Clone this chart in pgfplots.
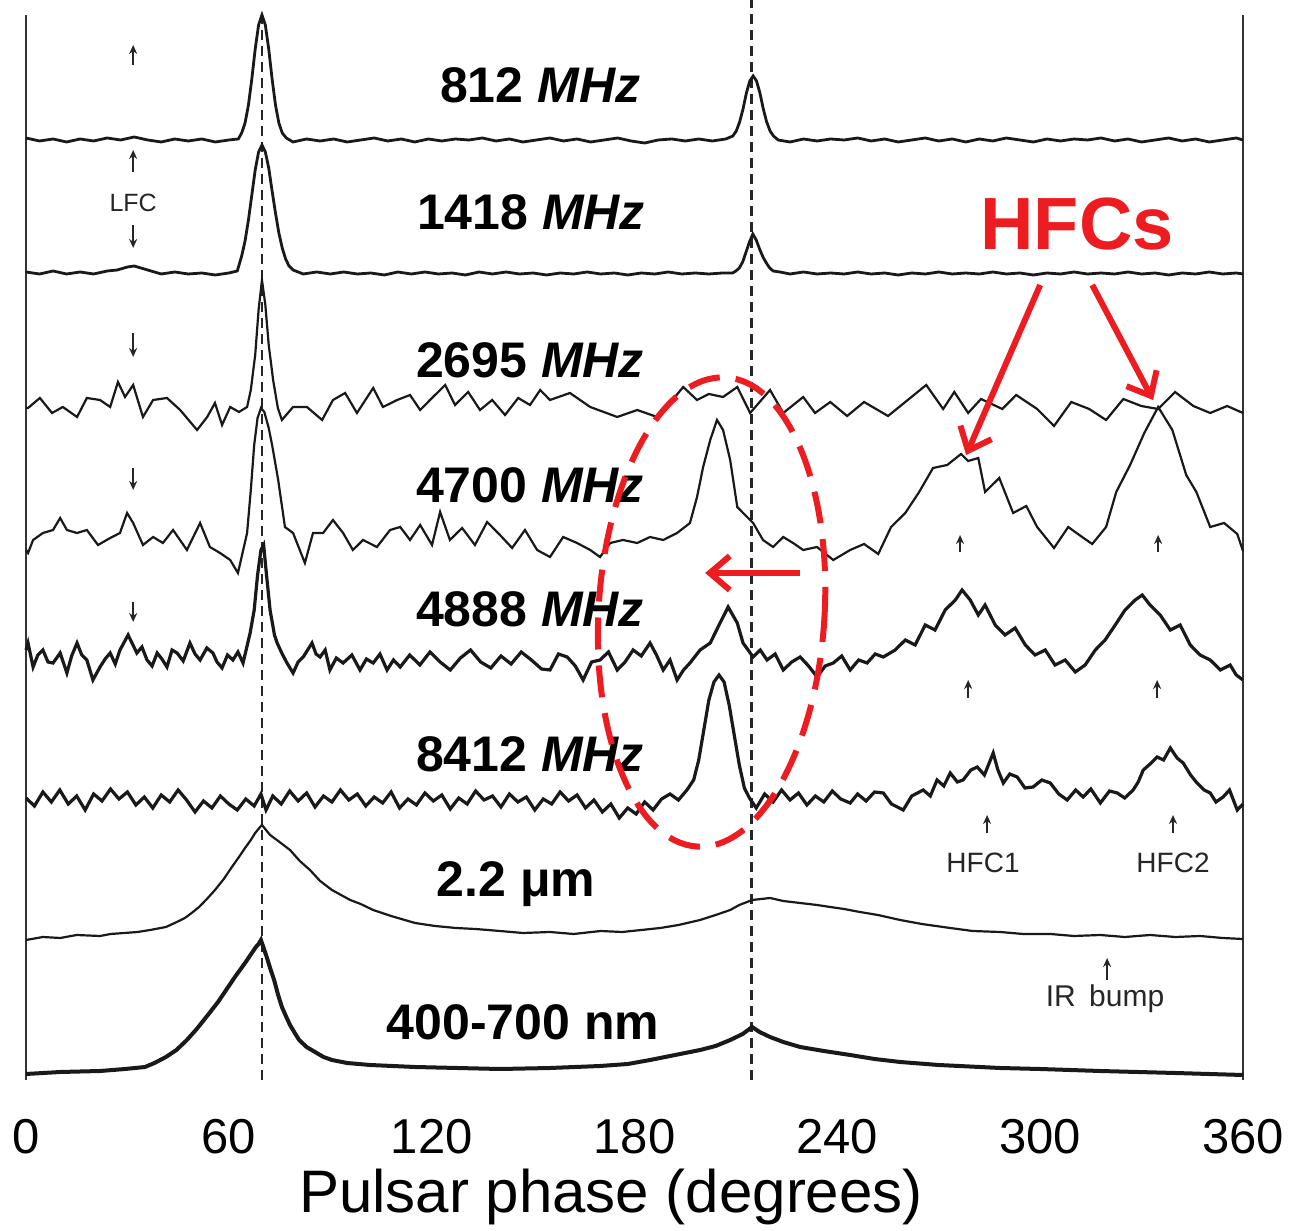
\documentclass[border=0pt]{standalone}
\usepackage{pgfplots}
\pgfplotsset{compat=1.18}
\usepackage{fontspec}
\setmainfont{Liberation Sans}
\usetikzlibrary{arrows.meta}
\definecolor{hred}{RGB}{236,28,32}
\definecolor{trc}{RGB}{25,25,25}
\begin{document}
\begin{tikzpicture}
\begin{axis}[
 scale only axis, width=608.5pt, height=532.5pt,
 xmin=0, xmax=360, ymin=0, ymax=1065,
 axis line style={draw=none},
 xtick={0,60,120,180,240,300,360}, ytick=\empty,
 major tick length=0pt,
 /pgf/number format/assume math mode=true,
 xticklabel style={font=\fontsize{24.5}{24.5}\selectfont, anchor=base, yshift=-36.5pt, inner sep=0pt},
 xlabel={Pulsar phase (degrees)},
 xlabel style={font=\fontsize{30}{30}\selectfont, at={(axis description cs:0.4807,0)}, anchor=base, yshift=-66pt, inner sep=0pt},
 clip=false,
]
\coordinate (A) at (rel axis cs:0,0);
% frame sides
\draw[line width=1.3pt, black!80] (rel axis cs:0,0) -- (rel axis cs:0,1);
\draw[line width=1.3pt, black!80] (rel axis cs:1,0) -- (rel axis cs:1,1);
% dashed reference lines
\addplot[line width=1.1pt, black!85, dash pattern=on 5pt off 3pt] coordinates {(69.8,0) (69.8,1065)};
\addplot[line width=1.1pt, black!85, dash pattern=on 5pt off 3pt] coordinates {(214.6,0) (214.6,1080)};

% 812 MHz
\addplot[line width=1.4pt, trc] coordinates {
(0,942)(4,939)(8,941)(12,938)(16,941)(20,939)(24,942)(28,940)(32,943)(36,940)(40,938)(44,941)(48,939)(52,941)(56,938)(60,940)(62.8,941)(63.8,947)(64.8,957)(65.8,975)(66.8,1001)(67.8,1031)(68.8,1055)(69.8,1065)(70.8,1055)(71.8,1031)(72.8,1001)(73.8,975)(74.8,957)(75.8,947)(77,942)(79,938)(83,941)(87,939)(91,941)(95,938)(99,940)(103,942)(107,939)(111,941)(115,938)(119,941)(123,939)(127,941)(131,940)(135,942)(139,939)(143,941)(147,938)(151,940)(155,942)(159,939)(163,941)(167,938)(171,940)(175,942)(179,939)(183,937)(187,940)(191,941)(195,939)(199,941)(203,939)(207,941)(209.1,944)(210.1,949)(211.1,958)(212.1,971)(213.1,987)(214.1,999)(215.1,1004)(216.1,999)(217.1,987)(218.1,971)(219.1,958)(220.1,949)(221.1,944)(222.5,940)(226,938)(230,941)(234,939)(238,941)(242,940)(246,942)(250,939)(254,941)(258,938)(262,940)(266,942)(270,939)(274,941)(278,938)(282,941)(286,939)(290,942)(294,940)(298,938)(302,941)(306,939)(310,941)(314,940)(318,942)(322,939)(326,941)(330,938)(334,940)(338,942)(342,939)(346,941)(350,938)(354,940)(358,942)(360,940)};

% 1418 MHz
\addplot[line width=1.4pt, trc] coordinates {
(0,808)(4,806)(8,809)(12,806)(16,808)(20,806)(24,809)(27,810)(30,813)(32,814)(34,812)(37,809)(40,806)(44,808)(48,806)(52,807)(56,805)(60,807)(62.5,809)(63.8,824)(64.8,839)(65.8,860)(66.8,885)(67.8,910)(68.8,928)(69.8,935)(70.8,928)(71.8,912)(72.8,889)(73.8,867)(74.8,847)(75.8,832)(76.8,821)(77.8,814)(79,810)(82,806)(86,808)(90,806)(94,808)(98,806)(102,807)(106,805)(110,808)(114,806)(118,808)(122,806)(126,807)(130,805)(134,808)(138,806)(142,808)(146,806)(150,807)(154,805)(158,807)(162,806)(166,808)(170,806)(174,807)(178,805)(182,807)(186,806)(190,808)(194,806)(198,807)(202,806)(206,807)(209,807)(210,809)(211,812)(212,818)(213,828)(214,838)(215,846)(216,840)(217,831)(218,823)(219,817)(220,812)(221,809)(223,808)(226,806)(230,808)(234,806)(238,807)(242,806)(246,808)(250,806)(254,807)(258,805)(262,807)(266,806)(270,808)(274,806)(278,807)(282,806)(286,808)(290,806)(294,807)(298,805)(302,807)(306,806)(310,808)(314,806)(318,807)(322,806)(326,808)(330,806)(334,807)(338,805)(342,807)(346,806)(350,808)(354,806)(358,807)(360,806)};

% 2695 MHz
\addplot[line width=1.1pt, trc] coordinates {
(0,672)(0.6,672)(4.1,682)(7.7,667)(10.9,673)(15.1,663)(18.0,682)(21.9,680)(24.9,673)(27.2,698)(29.3,683)(31.7,695)(34.6,663)(37.6,680)(41.7,682)(45.6,670)(50.6,650)(53.6,663)(55.9,677)(58.0,655)(60.4,673)(63,668)(65.4,673)(66.5,690)(67.8,725)(68.8,770)(69.8,800)(70.8,775)(71.8,735)(73.1,700)(74.5,672)(75.7,660)(79.0,673)(83.1,673)(87.6,660)(90.8,680)(94.4,687)(97.9,667)(102.7,692)(105.6,673)(109.8,680)(113.6,685)(116.6,670)(120.1,682)(124.0,695)(126.9,675)(130.8,688)(134.3,670)(137.9,680)(141.7,665)(145.6,682)(149.1,675)(152.1,690)(155.0,680)(160.9,687)(166.9,673)(174.9,663)(180.8,670)(186.7,663)(190.5,677)(194.4,693)(198.5,680)(202,686)(206.2,683)(210.4,693)(214.2,667)(220.1,690)(224.0,667)(229.9,683)(233.4,667)(237.9,678)(242.9,664)(247.9,678)(255.0,664)(260.1,678)(266.3,695)(271.3,671)(274.6,688)(278.7,667)(282.5,681)(288.8,671)(292.9,685)(299.1,671)(304.1,654)(309.2,678)(314.5,671)(319.5,660)(324.6,681)(329.9,674)(334.9,671)(339.9,688)(345.3,674)(350.3,667)(355.3,674)(360,667)};

% 4700 MHz
\addplot[line width=1.1pt, trc] coordinates {
(0,530)(0.6,527)(2.1,540)(5.0,547)(8.0,550)(10.1,562)(12.1,550)(15.1,547)(18.0,550)(21.3,535)(24.9,542)(27.8,547)(29.9,567)(31.7,557)(34.6,535)(37.6,543)(40.5,537)(43.5,550)(47.6,530)(51.5,557)(54.4,533)(57.4,527)(60.4,520)(62.7,507)(65.4,547)(66.5,590)(67.5,635)(68.5,662)(69.5,672)(70.5,668)(71.8,652)(72.8,635)(74.6,600)(76.6,553)(79.0,547)(82.5,517)(84.9,547)(87.9,547)(90.8,560)(93.8,547)(96.7,530)(99.7,540)(103.8,533)(107.7,550)(110.7,553)(113.6,540)(116.6,555)(120.1,535)(122.5,568)(125.4,540)(129.0,552)(132.8,535)(136.4,558)(140.2,545)(143.8,532)(147.6,550)(151.2,530)(155.0,523)(158.9,543)(163.0,537)(166.9,530)(169.8,523)(172.8,537)(176.6,540)(180.8,537)(184.6,543)(188.5,540)(192.6,547)(196.4,557)(198.5,583)(200.3,613)(202.4,640)(204.4,660)(206.2,650)(208.3,620)(210.4,573)(213.3,563)(215.1,557)(218.0,540)(221.0,533)(224.0,543)(226.9,537)(229.9,530)(234.0,533)(238.8,520)(243.8,530)(247.9,536)(252.1,526)(255.9,553)(260.1,567)(264.2,588)(268.3,612)(272.5,615)(276.6,626)(278.7,619)(281.7,622)(283.7,588)(287.9,602)(292.0,567)(295.9,574)(299.1,553)(304.1,532)(308.3,553)(312.4,543)(315.4,536)(319.5,553)(322.5,588)(326.6,615)(330.8,647)(334.9,673)(339.1,650)(343.2,605)(346.2,588)(350.3,553)(354.4,557)(358.3,546)(360,529)};

% 4888 MHz
\addplot[line width=1.6pt, trc] coordinates {
(0,430)(0.6,437)(2.1,413)(3.5,425)(5.0,430)(6.5,418)(8.0,417)(10.1,427)(12.1,407)(13.5,424)(15.1,437)(16.5,425)(18.0,420)(19.8,400)(21.9,413)(23.4,421)(24.9,427)(26.4,416)(27.8,430)(30.2,445)(32.8,427)(34.3,433)(35.8,420)(37.3,414)(38.8,427)(40.2,421)(41.7,413)(43.2,430)(44.7,427)(46.5,419)(48.5,437)(50,426)(51.5,420)(53.5,432)(55.3,427)(56.5,418)(58.0,412)(59.6,425)(61.2,420)(62.7,428)(64.2,417)(66.3,447)(67.5,470)(68.5,505)(69.5,530)(70.3,535)(71,510)(72.2,470)(73.5,445)(74.3,437)(75.8,426)(77.2,417)(79.0,407)(80.5,418)(82.0,423)(84.6,437)(85.8,426)(87.0,423)(88.5,430)(89.9,410)(91.8,422)(93.8,417)(96.4,425)(98.8,410)(100.7,421)(102.7,417)(104.7,426)(106.8,410)(108.7,420)(110.7,413)(113.5,425)(116.5,415)(119.5,428)(122.5,418)(125.5,410)(128.5,422)(131.5,430)(134.5,418)(137.5,412)(140.5,424)(143.5,416)(146.5,428)(149.5,420)(152.5,411)(155.0,410)(157.5,426)(160.1,423)(162.5,414)(164.8,400)(167.3,418)(169.8,420)(172.3,428)(174.9,410)(177.2,418)(179.6,430)(182,424)(184.6,437)(186.5,425)(188.5,410)(190.5,420)(192.6,400)(194.5,410)(196.4,417)(199.4,430)(202.4,437)(205.3,457)(207.7,473)(210.4,457)(212.1,437)(215.1,423)(217.2,430)(219.2,420)(221.6,426)(224.0,410)(226.5,418)(229.0,423)(231.5,414)(234.0,403)(236.4,414)(238.8,417)(241.3,424)(243.8,410)(246.3,420)(248.8,417)(251.2,426)(253.6,423)(257.1,430)(260.1,440)(263.0,435)(266.0,455)(268.9,450)(271.9,470)(274.9,480)(276.9,490)(279.3,480)(281.7,465)(283.7,475)(286.7,455)(289.6,445)(292.6,452)(295.6,435)(298.5,425)(301.5,430)(304.4,415)(307.4,420)(310.4,408)(313.3,415)(316.3,430)(319.2,440)(322.2,455)(325.1,470)(328.1,480)(330.2,485)(332.5,475)(335.5,465)(338.5,450)(341.4,455)(344.4,435)(347.3,425)(350.3,420)(353.3,410)(356.2,415)(358,405)(360,400)};

% 8412 MHz
\addplot[line width=1.6pt, trc] coordinates {
(0,282)(2.5,274)(5,288)(7.5,278)(10,290)(12.5,276)(15,284)(17.5,270)(20,286)(22.5,279)(25,291)(27.5,281)(30,288)(32.5,275)(35,283)(37.5,272)(40,285)(42.5,278)(45,290)(47.5,280)(50,268)(52.5,279)(55,272)(57.5,284)(60,276)(62.5,270)(65,281)(67.5,274)(69.5,286)(71,270)(73,284)(75.5,276)(78,289)(80.5,279)(83,287)(85.5,273)(88,284)(90.5,278)(93,290)(95.5,280)(98,286)(100.5,274)(103,283)(105.5,277)(108,288)(110.5,272)(113,281)(115.5,275)(118,287)(120.5,279)(123,285)(125.5,271)(128,282)(130.5,276)(133,289)(135.5,280)(138,284)(140.5,273)(143,286)(145.5,278)(148,283)(150.5,270)(153,281)(155.5,276)(158,288)(160.5,279)(163,285)(165.5,272)(168,280)(170.5,268)(173,276)(175.5,262)(178,272)(180.5,266)(183,278)(185.5,270)(188,281)(190.5,286)(193,280)(195.5,290)(197.5,300)(199,320)(200.5,350)(202,380)(203.5,398)(205,405)(206.5,398)(208,375)(209.5,345)(211,315)(212.5,292)(214,282)(216,272)(218.5,286)(221,278)(223.5,290)(226,280)(228.5,287)(231,275)(233.5,284)(236,278)(238.5,289)(241,281)(243.8,277)(246,286)(248.5,279)(251,288)(253.6,287)(256,276)(259.5,270)(262,284)(265.4,290)(267.5,284)(269.5,300)(271.5,294)(273.4,307)(275.5,298)(277.2,300)(279.5,310)(281.4,313)(283.5,305)(286.1,327)(287.5,310)(289.1,297)(291,306)(293.2,303)(295.5,292)(297.9,293)(300.5,300)(303,297)(305.5,286)(308,280)(310.5,290)(312.7,283)(315,291)(317.8,277)(320.5,289)(322.8,287)(325,282)(327.5,290)(329,298)(330.5,310)(332.5,316)(334.6,323)(336.5,320)(338.5,332)(340.5,322)(342.3,317)(344.5,305)(346.4,297)(348.5,290)(350.3,287)(352,278)(354.1,283)(356,290)(358.3,270)(360,276)};

% 2.2 micron
\addplot[line width=1.1pt, trc] coordinates {
(0,140)(5,143)(10.1,142)(15,145)(21.9,144)(25,146)(29.0,147)(33,148)(36.7,150)(41.4,153)(44,157)(47.0,162)(49,167)(51.2,173)(53.5,181)(55.9,190)(58.5,201)(60.9,213)(63,223)(64.8,232)(66.5,240)(67.8,247)(69,252)(69.8,255)(71,250)(72.2,245)(75,238)(78.1,230)(81,219)(84.0,210)(87,199)(90.5,190)(95.9,180)(99,176)(102.7,170)(108,164)(115.1,157)(121,154)(127.2,152)(133,151)(140.2,149)(147,147)(155.0,148)(162,146)(170,149)(176.3,148)(182,150)(187.6,152)(193,155)(199.4,160)(204,165)(208.3,170)(211,175)(214.8,180)(220.1,182)(224,179)(229.0,177)(234,175)(237.9,173)(242,171)(246.7,168)(252,165)(258.6,160)(265,156)(273.4,152)(280,149)(288.2,148)(295,146)(303.0,146)(310,144)(317.8,145)(325,143)(332.5,145)(340,143)(347.3,144)(354,142)(360,141)};

% 400-700 nm
\addplot[line width=2pt, trc] coordinates {
(0,6)(10.1,8)(21.9,9)(29.3,11)(35.2,13)(38,17)(41.4,23)(44.5,30)(47.6,40)(50.5,51)(53.8,65)(56.8,78)(59.8,93)(62,104)(63.3,110)(65,118)(66.0,123)(67,128)(68.0,133)(68.8,136)(69.5,140)(70.3,132)(71.3,122)(72.3,111)(73.4,100)(74.5,86)(75.7,73)(77,63)(78.1,55)(79.5,47)(80.8,40)(83,33)(85.5,28)(88,23)(90.5,20)(95,17)(101.8,15)(115.1,13)(140.2,11)(155,12)(169.8,14)(178,16)(184.6,20)(192,25)(199.4,30)(204,34)(208.3,40)(212,46)(214.8,53)(217,48)(220.1,43)(224,38)(229.0,33)(236,29)(243.8,25)(251,21)(258.6,18)(270,15)(288.2,12)(300,11)(317.8,9)(340,7)(360,5)};

% trace labels
\node[anchor=base, font=\fontsize{25}{25}\selectfont\bfseries] at (axis cs:152.1,977) {812 \textit{MHz}};
\node[anchor=base, font=\fontsize{25}{25}\selectfont\bfseries] at (axis cs:149.4,850) {1418 \textit{MHz}};
\node[anchor=base, font=\fontsize{25}{25}\selectfont\bfseries] at (axis cs:149.1,702) {2695 \textit{MHz}};
\node[anchor=base, font=\fontsize{25}{25}\selectfont\bfseries] at (axis cs:149.1,577) {4700 \textit{MHz}};
\node[anchor=base, font=\fontsize{25}{25}\selectfont\bfseries] at (axis cs:149.1,453) {4888 \textit{MHz}};
\node[anchor=base, font=\fontsize{25}{25}\selectfont\bfseries] at (axis cs:149.1,308) {8412 \textit{MHz}};
\node[anchor=base, font=\fontsize{25}{25}\selectfont\bfseries] at (axis cs:145,183) {2.2 μm};
\node[anchor=base, font=\fontsize{25}{25}\selectfont\bfseries] at (axis cs:147,40) {400-700 nm};

% small annotations
\begin{scope}[line width=0.9pt, black!85, -{Stealth[length=4.5pt,width=4pt]}]
\draw (axis cs:31.7,1015) -- (axis cs:31.7,1035);
\draw (axis cs:31.7,908) -- (axis cs:31.7,930);
\draw (axis cs:31.7,855) -- (axis cs:31.7,832);
\draw (axis cs:31.7,747) -- (axis cs:31.7,723);
\draw (axis cs:31.7,612) -- (axis cs:31.7,590);
\draw (axis cs:31.7,478) -- (axis cs:31.7,458);
\draw (axis cs:276.3,528) -- (axis cs:276.3,545);
\draw (axis cs:334.9,528) -- (axis cs:334.9,545);
\draw (axis cs:278.7,382) -- (axis cs:278.7,400);
\draw (axis cs:334.6,382) -- (axis cs:334.6,400);
\draw (axis cs:284.3,247) -- (axis cs:284.3,265);
\draw (axis cs:339.3,247) -- (axis cs:339.3,265);
\draw (axis cs:319.8,100) -- (axis cs:319.8,122);
\end{scope}
\node[font=\fontsize{12.5}{12.5}\selectfont, text=black!85] at (axis cs:31.7,877) {LFC};
\node[font=\fontsize{14}{14}\selectfont, text=black!85] at (axis cs:283.1,217) {HFC1};
\node[font=\fontsize{14}{14}\selectfont, text=black!85] at (axis cs:339.3,217) {HFC2};
\node[anchor=base, font=\fontsize{15}{15}\selectfont, text=black!85] at (axis cs:319.2,74) {IR\, bump};

% red annotations
\node[anchor=base, text=hred, font=\fontsize{37}{37}\selectfont\bfseries] at (axis cs:310.9,830) {HFCs};
\begin{scope}[hred, line width=3pt, -{Straight Barb[length=10pt,width=17pt]}]
\draw (axis cs:300.0,795) -- (axis cs:278.1,625);
\draw (axis cs:315.4,795) -- (axis cs:333.4,680);
\draw (axis cs:229,507) -- (axis cs:200.9,507);
\end{scope}
\draw[hred, line width=3pt, dash pattern=on 16pt off 8pt, rotate around={-3.5:(axis cs:202.8,468)}] (axis cs:202.8,468) ellipse [x radius=56.5pt, y radius=117.5pt];
\end{axis}
\pgfresetboundingbox
\path[use as bounding box] ([shift={(-13pt,-75.5pt)}]A) rectangle ([shift={(635pt,540pt)}]A);
\end{tikzpicture}
\end{document}
